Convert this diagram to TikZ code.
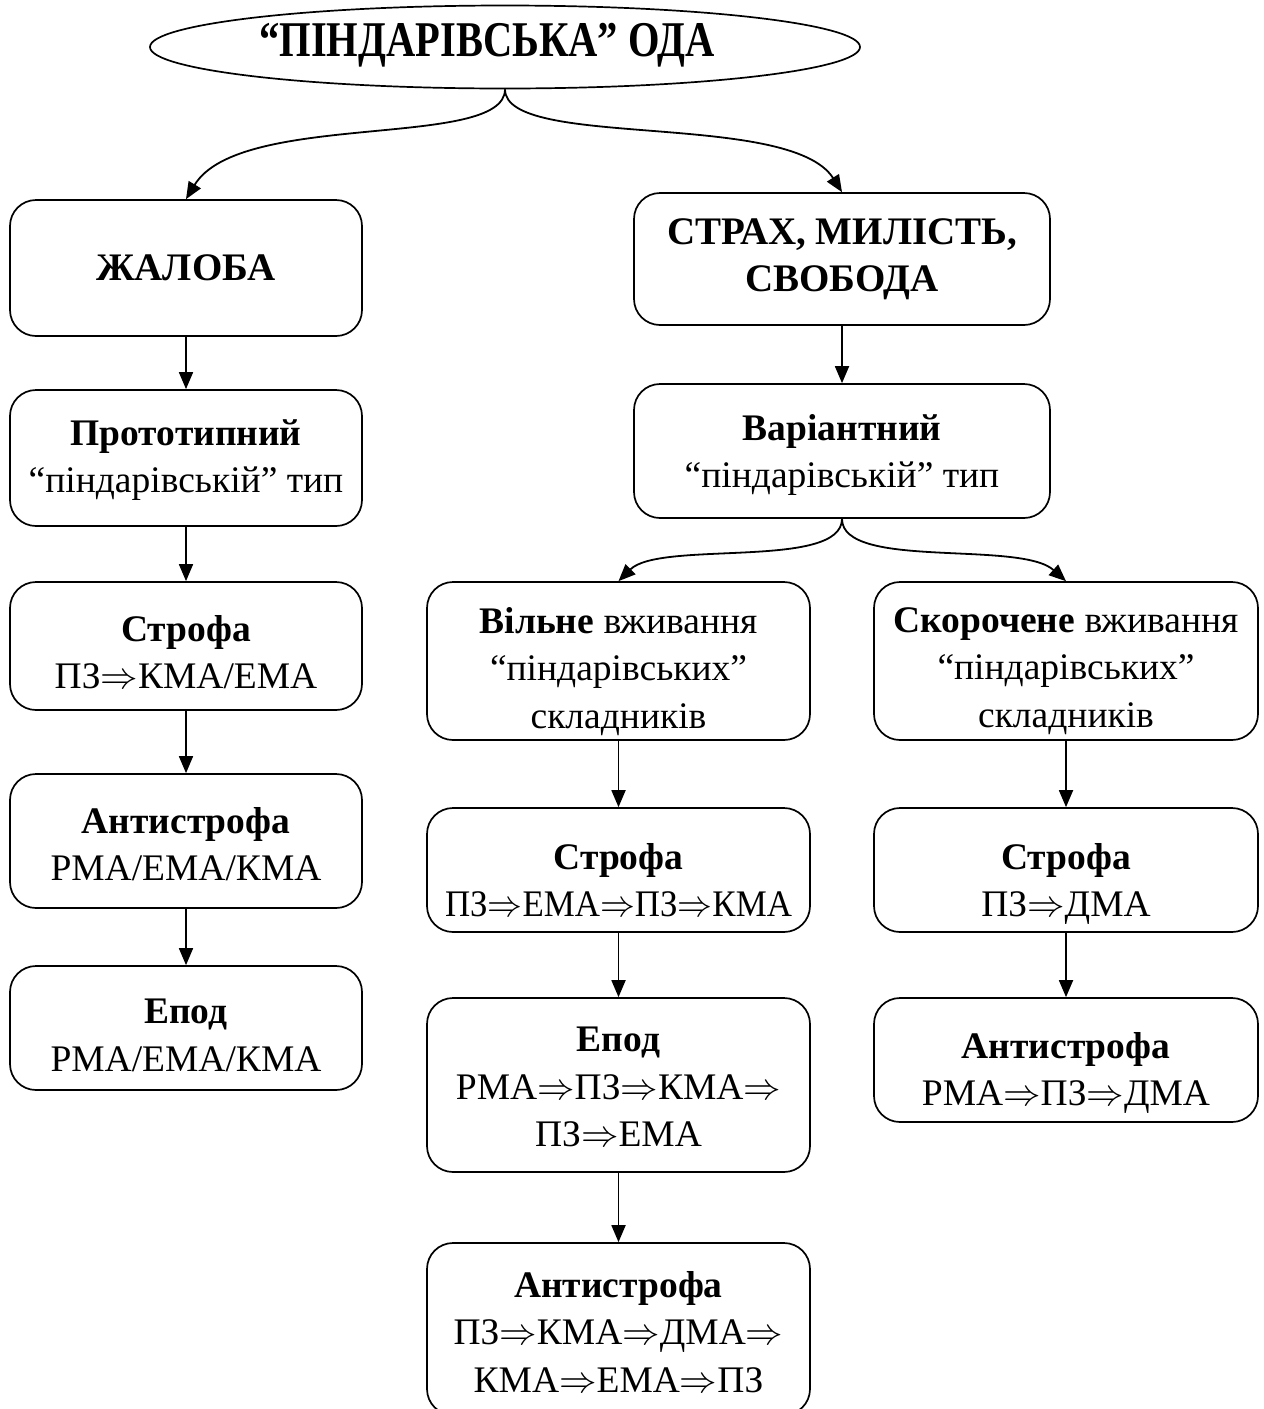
\RequirePackage{fix-cm}
\documentclass[tikz,border=0pt]{standalone}
\usepackage{fontspec}
\setmainfont{Liberation Serif}
\usetikzlibrary{shapes.geometric,arrows.meta}
% implication arrow used in the metre formulas
\newcommand{\imp}{$\Rightarrow$}
\begin{document}
\begin{tikzpicture}[x=1pt,y=-1pt,
  box/.style={draw, line width=1.7pt, rounded corners=26pt, align=center,
    inner sep=0pt, font=\fontsize{37.5}{47.5}\selectfont},
  txt/.style={align=center, inner sep=0pt, anchor=north,
    font=\fontsize{37.5}{47.5}\selectfont},
  head/.style={font=\fontsize{39}{47}\selectfont\bfseries},
  link/.style={line width=1.8pt, -{Triangle[length=17pt,width=14pt]}}]
\clip (0,0) rectangle (1264,1409);
\fill[white] (0,0) rectangle (1264,1409);

% title
\node[draw, ellipse, line width=1.7pt, minimum width=710pt, minimum height=83pt,
  inner sep=0pt] (ode) at (505,47) {};
\node[inner sep=0pt, font=\fontsize{50}{58}\selectfont\bfseries] (odet) at (487,45)
  {\scalebox{0.81}[1]{“ПІНДАРІВСЬКА” ОДА}};

% left branch
\node[box, head, minimum width=352pt, minimum height=136pt] (l1) at (186,268) {ЖАЛОБА};
\node[box, minimum width=352pt, minimum height=136pt] (l2) at (186,458) {};
\node[txt] (l2t) at (186,419) {\textbf{Прототипний}\\“піндарівській” тип};
\node[box, minimum width=352pt, minimum height=128pt] (l3) at (186,646) {};
\node[txt] (l3t) at (186,615) {\textbf{Строфа}\\ПЗ\imp КМА/ЕМА};
\node[box, minimum width=352pt, minimum height=134pt] (l4) at (186,841) {};
\node[txt] (l4t) at (186,807) {\textbf{Антистрофа}\\РМА/ЕМА/КМА};
\node[box, minimum width=352pt, minimum height=124pt] (l5) at (186,1028) {};
\node[txt] (l5t) at (186,999) {\textbf{Епод}\\РМА/ЕМА/КМА};

% right branch, upper part
\node[box, head, minimum width=416pt, minimum height=132pt] (r1) at (842,259)
  {СТРАХ, МИЛІСТЬ,\\СВОБОДА};
\node[box, minimum width=416pt, minimum height=134pt] (r2) at (842,451) {};
\node[txt] (r2t) at (842,414) {\textbf{Варіантний}\\“піндарівській” тип};

% free use column
\node[box, minimum width=383pt, minimum height=158pt] (m1) at (618.5,661) {};
\node[txt] (m1t) at (618.5,607) {\textbf{Вільне} вживання\\“піндарівських”\\складників};
\node[box, minimum width=383pt, minimum height=124pt] (m2) at (618.5,870) {};
\node[txt] (m2t) at (618.5,843)
  {\textbf{Строфа}\\\scalebox{0.93}[1]{ПЗ\imp ЕМА\imp ПЗ\imp КМА}};
\node[box, minimum width=383pt, minimum height=174pt] (m3) at (618.5,1085) {};
\node[txt] (m3t) at (618.5,1027) {\textbf{Епод}\\РМА\imp ПЗ\imp КМА\imp\\ПЗ\imp ЕМА};
\node[box, minimum width=383pt, minimum height=172pt] (m4) at (618.5,1329) {};
\node[txt] (m4t) at (618.5,1271)
  {\textbf{Антистрофа}\\ПЗ\imp КМА\imp ДМА\imp\\КМА\imp ЕМА\imp ПЗ};

% shortened use column
\node[box, minimum width=384pt, minimum height=158pt] (s1) at (1066,661) {};
\node[txt] (s1t) at (1066,607) {\textbf{Скорочене} вживання\\“піндарівських”\\складників};
\node[box, minimum width=384pt, minimum height=124pt] (s2) at (1066,870) {};
\node[txt] (s2t) at (1066,843) {\textbf{Строфа}\\ПЗ\imp ДМА};
\node[box, minimum width=384pt, minimum height=124pt] (s3) at (1066,1060) {};
\node[txt] (s3t) at (1066,1032) {\textbf{Антистрофа}\\РМА\imp ПЗ\imp ДМА};

% curved splits
\draw[link] (ode.south) .. controls (505,150) and (240,110) .. (l1.north);
\draw[link] (ode.south) .. controls (505,150) and (790,110) .. (r1.north);
\draw[link] (r2.south) .. controls (842,570) and (660,540) .. (m1.north);
\draw[link] (r2.south) .. controls (842,570) and (1020,540) .. (s1.north);

% straight links
\draw[link] (l1) -- (l2);
\draw[link] (l2) -- (l3);
\draw[link] (l3) -- (l4);
\draw[link] (l4) -- (l5);
\draw[link] (r1) -- (r2);
\draw[link] (m1) -- (m2);
\draw[link] (m2) -- (m3);
\draw[link] (m3) -- (m4);
\draw[link] (s1) -- (s2);
\draw[link] (s2) -- (s3);
\end{tikzpicture}
\end{document}
